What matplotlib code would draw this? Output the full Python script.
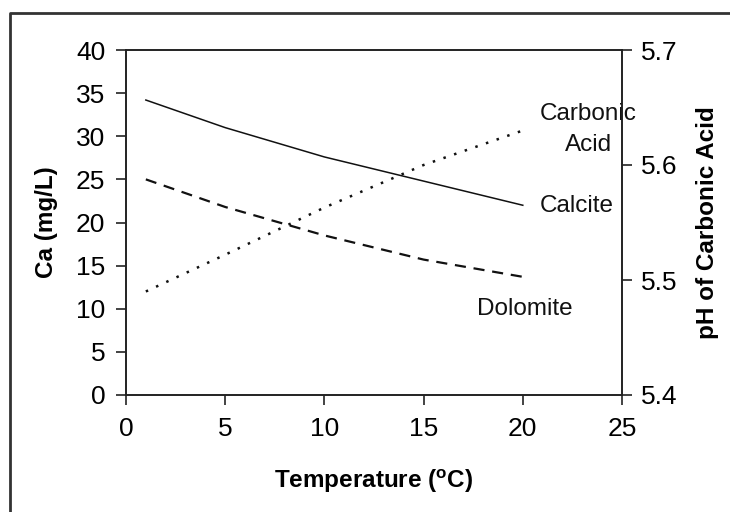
import matplotlib
matplotlib.use("Agg")
import matplotlib.pyplot as plt
from matplotlib.lines import Line2D

# values
temp = [1, 5, 10, 15, 20]
calcite = [34.2, 31.0, 27.6, 24.8, 22.0]
dolomite = [25.0, 21.8, 18.5, 15.7, 13.7]
ph_carbonic = [5.490, 5.522, 5.563, 5.600, 5.630]

x_ticks = [0, 5, 10, 15, 20, 25]
ca_ticks = [0, 5, 10, 15, 20, 25, 30, 35, 40]
ph_ticks = [5.4, 5.5, 5.6, 5.7]

plt.rcParams["font.family"] = ["Liberation Sans", "DejaVu Sans"]

W, H = 730, 512
fig = plt.figure(figsize=(W / 100, H / 100), dpi=100)
ax = fig.add_axes([126 / W, 1 - 395 / H, 496 / W, 345 / H])
ax2 = ax.twinx()

ink = "#111111"

ax.plot(temp, calcite, color=ink, lw=1.1, ls="-")
ax.plot(temp, dolomite, color=ink, lw=1.6, ls=(0, (5, 3.5)))
ax2.plot(temp, ph_carbonic, color=ink, lw=1.8, ls=(0, (1, 3.5)))

ax.set_xlim(0, 25)
ax.set_ylim(0, 40)
ax2.set_ylim(5.4, 5.7)
ax.set_xticks(x_ticks)
ax.set_yticks(ca_ticks)
ax2.set_yticks(ph_ticks)
ax2.set_yticklabels([f"{v:.1f}" for v in ph_ticks])

for a in (ax, ax2):
    for s in a.spines.values():
        s.set_color("#222222")
        s.set_linewidth(1.2)
ax.tick_params(axis="both", direction="out", length=7, width=1.2, color="#222222",
               labelsize=19)
ax.tick_params(axis="x", pad=9)
ax.tick_params(axis="y", pad=8)
ax2.tick_params(axis="y", direction="out", length=7, width=1.2, color="#222222",
                labelsize=19, pad=7)

ax.set_xlabel("Temperature ($\\mathregular{^{o}}$C)", fontsize=17.5, fontweight="bold")
ax.xaxis.set_label_coords(0.5, -0.21)
ax.set_ylabel("Ca (mg/L)", fontsize=17.5, fontweight="bold")
ax.yaxis.set_label_coords(-0.137, 0.5)
ax2.set_ylabel("pH of Carbonic Acid", fontsize=17.5, fontweight="bold")
ax2.yaxis.set_label_coords(1.15, 0.5)

# line labels
ax.text(23.3, 32.6, "Carbonic", fontsize=17.5, ha="center", va="center", color=ink)
ax.text(23.3, 29.0, "Acid", fontsize=17.5, ha="center", va="center", color=ink)
ax.text(22.7, 21.9, "Calcite", fontsize=17.5, ha="center", va="center", color=ink)
ax.text(20.1, 10.0, "Dolomite", fontsize=17.5, ha="center", va="center", color=ink)

# outer frame (left and top edges only visible)
fx, fy = 10 / W, 1 - 13 / H
fig.add_artist(Line2D([fx, fx, 1.01], [-0.01, fy, fy], transform=fig.transFigure,
                      color="#333333", lw=2))

fig.savefig("out.png", dpi=100)
